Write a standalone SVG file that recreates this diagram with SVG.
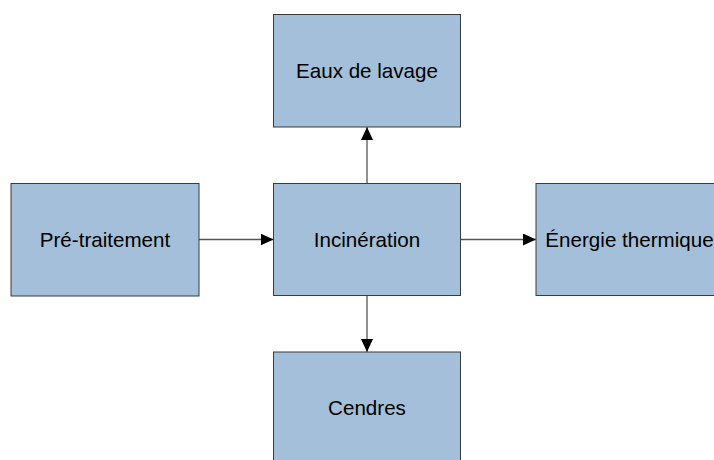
<svg xmlns="http://www.w3.org/2000/svg" width="714" height="460" viewBox="0 0 714 460">
<defs>
<style>
.box{fill:#a3bfd9;stroke:#3a3a3a;stroke-width:1}
.lbl{font-family:"Liberation Sans",Arial,sans-serif;font-size:20.6px;fill:#000;text-anchor:middle}
.conn{stroke:#555;stroke-width:1.3;fill:none}
</style>
<marker id="ah" viewBox="0 0 13 12" refX="13" refY="6" markerWidth="13" markerHeight="12" markerUnits="userSpaceOnUse" orient="auto">
<path d="M0,0 L13,6 L0,12 Z" fill="#000"/>
</marker>
</defs>
<rect width="714" height="460" fill="#fff"/>
<g id="connectors">
<line class="conn" x1="199" y1="239.5" x2="273.5" y2="239.5" marker-end="url(#ah)"/>
<line class="conn" x1="460.5" y1="239.5" x2="536" y2="239.5" marker-end="url(#ah)"/>
<line class="conn" x1="367" y1="183.5" x2="367" y2="127" marker-end="url(#ah)"/>
<line class="conn" x1="367" y1="295.5" x2="367" y2="352" marker-end="url(#ah)"/>
</g>
<g id="pretraitement">
<rect class="box" x="11" y="183.5" width="188" height="112.5"/>
<text class="lbl" x="105" y="246.5">Pré-traitement</text>
</g>
<g id="incineration">
<rect class="box" x="273.5" y="183.5" width="187" height="112"/>
<text class="lbl" x="367" y="246.5">Incinération</text>
</g>
<g id="eaux">
<rect class="box" x="273.5" y="14.5" width="187" height="112.5"/>
<text class="lbl" x="367" y="77.5">Eaux de lavage</text>
</g>
<g id="energie">
<rect class="box" x="536" y="183.5" width="187" height="112"/>
<text class="lbl" x="629.5" y="246.5">Énergie thermique</text>
</g>
<g id="cendres">
<rect class="box" x="273.5" y="352" width="187" height="112"/>
<text class="lbl" x="367" y="414.5">Cendres</text>
</g>
</svg>
